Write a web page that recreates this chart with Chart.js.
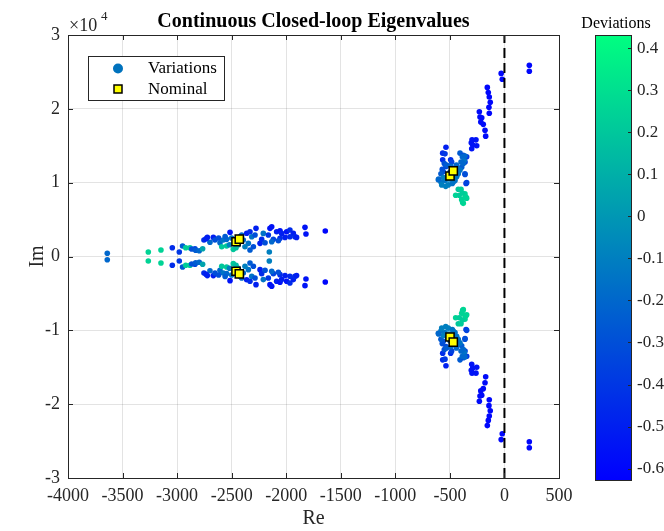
<!DOCTYPE html>
<html>
<head>
<meta charset="utf-8">
<script src="https://cdn.jsdelivr.net/npm/chart.js@4.4.1/dist/chart.umd.min.js"></script>
<style>
  html, body { margin: 0; padding: 0; background: #fff; }
  #wrap { position: relative; width: 664px; height: 531px; }
  #main { position: absolute; left: 0; top: 0; }
  #cbar { position: absolute; left: 580px; top: 0; }
</style>
</head>
<body>
<div id="wrap">
  <canvas id="main" width="664" height="531"></canvas>
  <canvas id="cbar" width="84" height="531"></canvas>
</div>
<script>
// upper-half eigenvalues (the lower half are the complex conjugates)
// slow branch, left cluster: real part, imag part, deviation
const leftRe = [-3640, -3264, -3148, -3044, -2980, -2950, -2921, -2882, -2836, -2866, -2830, -2797, -2766,
  -2754, -2723, -2699, -2668, -2653, -2735, -2607, -2577, -2546, -2515, -2591, -2546, -2485,
  -2408, -2362, -2332, -2316, -2347, -2301, -2332, -2378, -2393, -2277, -2286, -2240, -2225,
  -2210, -2164, -2149, -2133, -2088, -2057, -2042, -1996, -1966, -1935, -1920, -1905, -1966,
  -2011, -2057, -2118, -2133, -2072, -2194, -2155, -1828, -1819, -1642,
  -2500, -2480, -2440, -2420, -2460, -2520, -2560, -2620];
const leftIm = [450, 600, 880, 1190, 600, 1420, 1190, 1190, 1050, 1010, 840, 780, 1050,
  2230, 2590, 1920, 2590, 2230, 2400, 1860, 2230, 2320, 3270, 1320, 1420, 970,
  2910, 3140, 3350, 2680, 1780, 1320, 880, 1320, 2230, 3810, 2910, 1780, 2320,
  3130, 2910, 3810, 4030, 3350, 3490, 3130, 3350, 3580, 3130, 2680, 2590, 2680,
  2590, 2460, 2320, 2000, 2140, 1860, 610, 3950, 3040, 3450,
  2500, 1800, 1600, 2700, 1200, 1600, 2700, 2500];
const leftDev = [-0.2, 0.25, 0.25, -0.45, -0.4, -0.25, 0.22, 0.22, -0.35, -0.3, -0.25, -0.2, 0.05,
  -0.45, -0.5, -0.2, -0.5, -0.3, -0.5, -0.2, -0.15, -0.2, -0.55, 0.2, 0.2, 0.2,
  -0.2, -0.5, -0.45, -0.15, -0.15, -0.3, -0.25, -0.1, -0.2, -0.5, -0.3, -0.5, -0.45,
  -0.15, -0.4, -0.55, -0.55, -0.5, -0.55, -0.5, -0.55, -0.45, -0.5, -0.45, -0.5, -0.45,
  -0.5, -0.45, -0.35, -0.2, -0.3, -0.3, -0.1, -0.55, -0.55, -0.6,
  -0.15, -0.1, -0.05, -0.2, 0.15, -0.1, -0.25, -0.3];

// fast branch, right cluster
const rightRe = [228, 228, -30, -20, -157, -148, -139, -130, -142, -139,
  -230, -224, -208, -217, -194, -178, -172, -297, -261, -304, -291, -300, -254,
  -536, -566, -545, -566, -493, -484, -536, -561, -407, -377, -346, -361, -392, -361, -352,
  -551, -530, -490, -570, -582, -606, -582, -545, -575, -538, -515, -478,
  -386, -368, -377, -407, -423, -438, -453, -469, -362, -398, -428, -362, -346,
  -423, -398, -447, -362, -355, -392, -377, -346, -383, -386, -414, -362,
  -520, -500, -460, -480, -510, -450, -440, -560, -603];
const rightIm = [25900, 25100, 24800, 24000, 22900, 22200, 21600, 20900, 20200, 19400,
  19600, 18900, 18800, 18200, 17900, 17100, 16300, 15800, 15800, 15400, 15100, 14600, 15000,
  14800, 14000, 13900, 13100, 13100, 12800, 12200, 11500, 14000, 13700, 13500, 12800, 12100, 11100, 9900,
  12600, 12400, 12200, 11800, 11200, 10400, 10100, 10300, 9700, 9500, 9700, 9900,
  13500, 13000, 12600, 11700, 11200, 10800, 10300, 10100, 13600, 12800, 11900, 11200, 10000,
  9100, 9100, 8300, 8500, 8100, 7700, 7200, 7900, 7300, 8600, 8300, 8000,
  11000, 11400, 11000, 10600, 10500, 11500, 12400, 10700, 10500];
const rightDev = [-0.6, -0.6, -0.6, -0.6, -0.6, -0.6, -0.6, -0.6, -0.6, -0.6,
  -0.58, -0.58, -0.58, -0.58, -0.58, -0.58, -0.58, -0.55, -0.55, -0.55, -0.55, -0.55, -0.55,
  -0.5, -0.45, -0.4, -0.45, -0.45, -0.35, -0.35, -0.3, -0.25, -0.3, -0.4, -0.35, -0.25, -0.35, -0.4,
  -0.3, -0.25, -0.2, -0.3, -0.25, -0.2, -0.15, -0.15, -0.1, -0.1, -0.1, -0.15,
  -0.2, -0.15, -0.2, -0.15, -0.15, -0.15, -0.15, -0.15, -0.2, -0.2, -0.15, -0.3, -0.35,
  0.2, 0.22, 0.25, 0.25, 0.25, 0.25, 0.28, 0.25, 0.25, 0.22, 0.22, 0.25,
  -0.15, -0.15, -0.15, -0.1, -0.1, -0.15, -0.2, -0.1, -0.2];

// nominal closed-loop eigenvalues (upper half)
const nomRe = [-2460, -2430, -499, -469];
const nomIm = [2000, 2360, 10900, 11600];

// axis ranges and colour limits
const xRange = [-4000, 500];
const yRange = [-30000, 30000];
const devRange = [-0.627, 0.431];

const serif = '"Liberation Serif", "Times New Roman", serif';

// MATLAB 'winter' colormap
function winter(v) {
  let t = (v - devRange[0]) / (devRange[1] - devRange[0]);
  t = Math.max(0, Math.min(1, t));
  return 'rgb(0,' + Math.round(255 * t) + ',' + Math.round(255 * (1 - 0.5 * t)) + ')';
}

// build conjugate pairs
const varPts = [], varCol = [];
function addCluster(re, im, dev) {
  for (let i = 0; i < re.length; i++) {
    varPts.push({x: re[i], y: im[i]});
    varCol.push(winter(dev[i]));
  }
  for (let i = 0; i < re.length; i++) {
    varPts.push({x: re[i], y: -im[i]});
    varCol.push(winter(dev[i]));
  }
}
addCluster(leftRe, leftIm, leftDev);
addCluster(rightRe, rightIm, rightDev);

const nomPts = [];
nomRe.forEach((r, i) => nomPts.push({x: r, y: nomIm[i]}));
nomRe.forEach((r, i) => nomPts.push({x: r, y: -nomIm[i]}));

const decor = {
  id: 'decor',
  afterDraw(chart) {
    const ctx = chart.ctx;
    const a = chart.chartArea;
    const sx = chart.scales.x, sy = chart.scales.y;
    ctx.save();
    // box and inward ticks
    ctx.strokeStyle = '#262626';
    ctx.lineWidth = 1;
    ctx.strokeRect(Math.round(a.left) + 0.5, Math.round(a.top) + 0.5,
      Math.round(a.right - a.left), Math.round(a.bottom - a.top));
    ctx.beginPath();
    sx.ticks.forEach(t => {
      const px = Math.round(sx.getPixelForValue(t.value)) + 0.5;
      ctx.moveTo(px, a.bottom); ctx.lineTo(px, a.bottom - 5);
      ctx.moveTo(px, a.top); ctx.lineTo(px, a.top + 5);
    });
    sy.ticks.forEach(t => {
      const py = Math.round(sy.getPixelForValue(t.value)) + 0.5;
      ctx.moveTo(a.left, py); ctx.lineTo(a.left + 5, py);
      ctx.moveTo(a.right, py); ctx.lineTo(a.right - 5, py);
    });
    ctx.stroke();

    // title
    ctx.fillStyle = '#000';
    ctx.textAlign = 'center';
    ctx.textBaseline = 'alphabetic';
    ctx.font = 'bold 20px ' + serif;
    ctx.fillText('Continuous Closed-loop Eigenvalues', (a.left + a.right) / 2, 27);

    // exponent label
    ctx.fillStyle = '#262626';
    ctx.textAlign = 'left';
    ctx.font = '18px ' + serif;
    ctx.fillText('\u00d710', 69, 31);
    ctx.font = '13px ' + serif;
    ctx.fillText('4', 101, 20);

    // legend
    ctx.fillStyle = '#fff';
    ctx.fillRect(88, 56, 137, 45);
    ctx.strokeStyle = '#262626';
    ctx.strokeRect(88.5, 56.5, 136, 44);
    ctx.fillStyle = 'rgb(0,114,189)';
    ctx.beginPath();
    ctx.arc(118, 68.5, 5, 0, Math.PI * 2);
    ctx.fill();
    ctx.fillStyle = '#ffff00';
    ctx.fillRect(114, 85, 8, 8);
    ctx.strokeStyle = '#000';
    ctx.lineWidth = 1.5;
    ctx.strokeRect(114, 85, 8, 8);
    ctx.fillStyle = '#000';
    ctx.font = '17px ' + serif;
    ctx.textBaseline = 'middle';
    ctx.fillText('Variations', 148, 69);
    ctx.fillText('Nominal', 148, 90);
    ctx.restore();
  }
};

new Chart(document.getElementById('main'), {
  type: 'scatter',
  data: {
    datasets: [
      {
        label: 'Nominal',
        data: nomPts,
        pointStyle: 'rect',
        pointRadius: 5.8,
        pointBackgroundColor: '#ffff00',
        pointBorderColor: '#000',
        pointBorderWidth: 1.5
      },
      {
        type: 'line',
        label: 'zero',
        data: [{x: 0, y: yRange[0]}, {x: 0, y: yRange[1]}],
        borderColor: '#000',
        borderWidth: 2,
        borderDash: [10, 5],
        pointRadius: 0
      },
      {
        label: 'Variations',
        data: varPts,
        pointRadius: 2.8,
        pointBorderWidth: 0,
        pointBackgroundColor: varCol,
        pointBorderColor: varCol
      }
    ]
  },
  options: {
    responsive: false,
    animation: false,
    layout: { padding: { left: 0, right: 105, top: 35, bottom: 0 } },
    plugins: { legend: { display: false }, tooltip: { enabled: false } },
    scales: {
      x: {
        type: 'linear',
        min: xRange[0], max: xRange[1],
        afterFit(s) { s.height = 53; },
        grid: { color: 'rgba(38,38,38,0.13)', drawTicks: false },
        border: { color: '#262626' },
        ticks: {
          stepSize: 500, autoSkip: false, maxRotation: 0, padding: 7,
          color: '#262626', font: { family: serif, size: 18 },
          callback: v => String(v)
        },
        title: { display: true, text: 'Re', color: '#262626',
          font: { family: serif, size: 20 }, padding: { top: 0, bottom: 0 } }
      },
      y: {
        type: 'linear',
        min: yRange[0], max: yRange[1],
        afterFit(s) { s.width = 68; },
        grid: { color: 'rgba(38,38,38,0.13)', drawTicks: false },
        border: { color: '#262626' },
        ticks: {
          stepSize: 10000, padding: 8,
          color: '#262626', font: { family: serif, size: 18 },
          callback: v => String(v / 10000)
        },
        title: { display: true, text: 'Im', color: '#262626',
          font: { family: serif, size: 20 }, padding: { top: 26, bottom: 0 } }
      }
    }
  },
  plugins: [decor]
});

const cbDecor = {
  id: 'cbDecor',
  afterDraw(chart) {
    const ctx = chart.ctx;
    const a = chart.chartArea;
    const sy = chart.scales.y;
    ctx.save();
    ctx.strokeStyle = '#262626';
    ctx.lineWidth = 1;
    ctx.strokeRect(Math.round(a.left) + 0.5, Math.round(a.top) + 0.5,
      Math.round(a.right - a.left), Math.round(a.bottom - a.top));
    ctx.beginPath();
    sy.ticks.forEach(t => {
      const py = Math.round(sy.getPixelForValue(t.value)) + 0.5;
      ctx.moveTo(a.right, py); ctx.lineTo(a.right - 3, py);
    });
    ctx.stroke();
    ctx.fillStyle = '#000';
    ctx.textAlign = 'center';
    ctx.font = '16px ' + serif;
    ctx.fillText('Deviations', 36, 28);
    ctx.restore();
  }
};

new Chart(document.getElementById('cbar'), {
  type: 'bar',
  data: {
    labels: ['Deviations'],
    datasets: [{
      data: [devRange],
      barPercentage: 1,
      categoryPercentage: 1,
      borderWidth: 0,
      backgroundColor(c) {
        const a = c.chart.chartArea;
        if (!a) return 'rgb(0,0,255)';
        const g = c.chart.ctx.createLinearGradient(0, a.bottom, 0, a.top);
        g.addColorStop(0, winter(devRange[0]));
        g.addColorStop(1, winter(devRange[1]));
        return g;
      }
    }]
  },
  options: {
    responsive: false,
    animation: false,
    layout: { padding: { left: 15, right: 0, top: 35, bottom: 51 } },
    plugins: { legend: { display: false }, tooltip: { enabled: false } },
    scales: {
      x: { display: false },
      y: {
        position: 'right',
        min: devRange[0], max: devRange[1],
        afterFit(s) { s.width = 33; },
        grid: { display: false, drawTicks: false },
        border: { display: false },
        ticks: {
          stepSize: 0.1, includeBounds: false, padding: 6,
          color: '#262626', font: { family: serif, size: 17 },
          callback: v => String(Math.round(v * 10) / 10)
        }
      }
    }
  },
  plugins: [cbDecor]
});
</script>
</body>
</html>
